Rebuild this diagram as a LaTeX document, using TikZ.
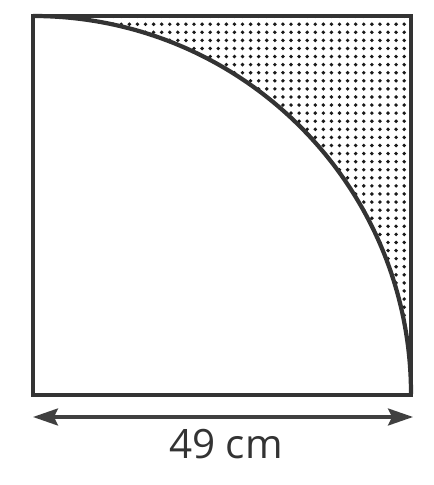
\documentclass[tikz,border=0pt]{standalone}
\usepackage{fontspec}
\setmainfont{Open Sans}
\usetikzlibrary{arrows.meta,patterns.meta}
\tikzset{
  edgeline/.style={line width=1.2pt, draw=black!80},
  dimarrow/.style={line width=0.9pt, draw=black!75, {Stealth[length=2.5mm,width=1.7mm,inset=0.4mm]}-{Stealth[length=2.5mm,width=1.7mm,inset=0.4mm]}},
  dotfill/.style={pattern={Dots[radius=0.55pt,distance=2.3pt]}, pattern color=black!90}
}
\begin{document}
\begin{tikzpicture}
  \useasboundingbox (0,0) rectangle (4.33,4.85);
  \coordinate (BL) at (0.33,0.90);
  \coordinate (BR) at (4.11,0.90);
  \coordinate (TR) at (4.11,4.69);
  \coordinate (TL) at (0.33,4.69);
  % shaded corner outside the arc
  \fill[dotfill] (TL) arc[start angle=90, end angle=0, radius=3.78] -- (TR) -- cycle;
  \draw[edgeline] (TL) arc[start angle=90, end angle=0, radius=3.78];
  \draw[edgeline] (BL) rectangle (TR);
  % width
  \coordinate (DL) at (0.33,0.68);
  \coordinate (DR) at (4.13,0.68);
  \draw[dimarrow] (DL) -- (DR);
  \node[font=\fontsize{11.5}{14}\selectfont, text=black!80] (len) at (2.26,0.41) {49 cm};
\end{tikzpicture}
\end{document}
